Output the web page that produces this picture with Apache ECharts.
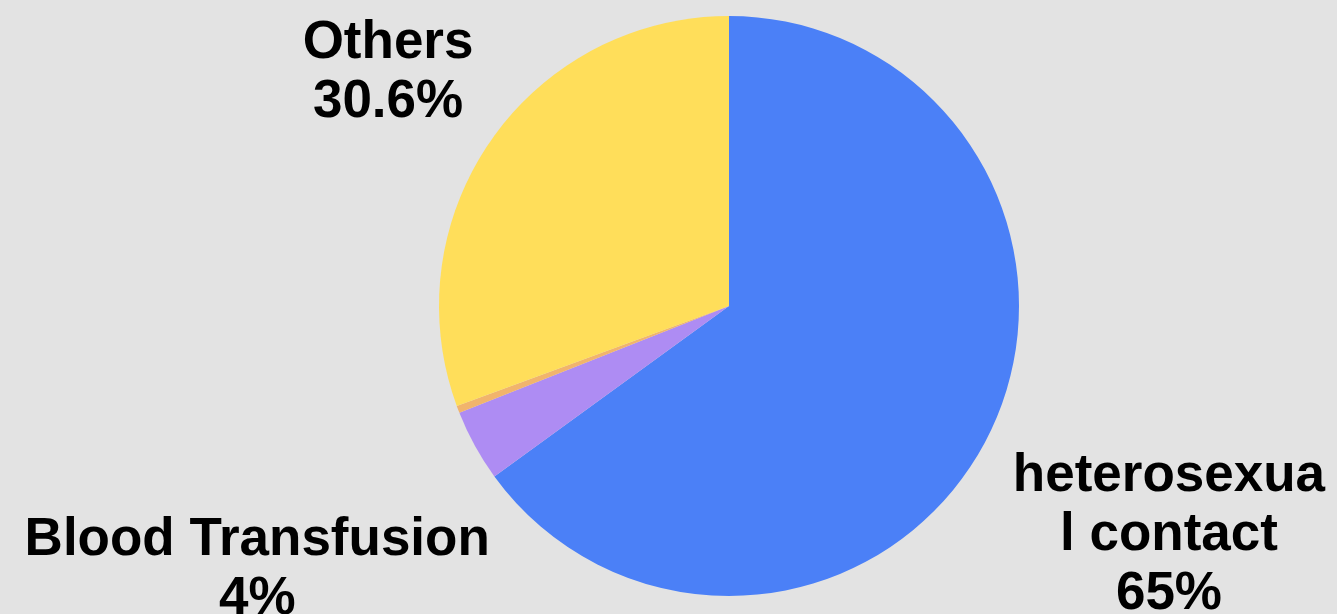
<!DOCTYPE html>
<html>
<head>
<meta charset="utf-8">
<script src="https://cdn.jsdelivr.net/npm/echarts@6/dist/echarts.min.js"></script>
<style>
  html, body { margin: 0; padding: 0; background: #e3e3e3; }
  #chart { width: 1337px; height: 614px; }
</style>
</head>
<body>
<div id="chart"></div>
<script>
// Transmission routes and their shares (percent)
const categories = ['heterosexual contact', 'Blood Transfusion', 'Injecting drug use', 'Others'];
const shares = [65, 4, 0.4, 30.6];
const colors = ['#4b80f7', '#ae8cf3', '#f1b46c', '#ffde5a'];
const unlabelled = ['Injecting drug use'];

// Pie geometry (pixels)
const CX = 729, CY = 306, R = 290, GAP = 22, TEXT_DROP = 5;

// Mid angle of every slice, clockwise from 12 o'clock
const total = shares.reduce((a, b) => a + b, 0);
const midAngles = [];
let acc = 0;
shares.forEach(v => { midAngles.push((acc + v / 2) / total * 2 * Math.PI); acc += v; });

// Push each centred label out along its slice's bisector until the
// label box's nearest corner sits just beyond the rim.
function placeLabel(params) {
  const a = midAngles[params.dataIndex];
  const ux = Math.sin(a), uy = -Math.cos(a);
  const w = params.labelRect.width, h = params.labelRect.height;
  const cx = Math.sign(ux) * w / 2, cy = Math.sign(uy) * h / 2;
  const uc = ux * cx + uy * cy;
  const rr = R + GAP;
  const d = uc + Math.sqrt(uc * uc - (cx * cx + cy * cy) + rr * rr);
  return { x: CX + ux * d, y: CY + uy * d + TEXT_DROP, align: 'center', verticalAlign: 'middle' };
}

const data = categories.map((name, i) => {
  const item = { name: name, value: shares[i], itemStyle: { color: colors[i] } };
  if (unlabelled.includes(name)) item.label = { show: false };
  if (i === 0) item.label = { width: 318, overflow: 'break' };
  return item;
});

const chart = echarts.init(document.getElementById('chart'), null, { renderer: 'canvas' });
chart.setOption({
  backgroundColor: '#e3e3e3',
  animation: false,
  series: [{
    type: 'pie',
    center: [CX, CY],
    radius: [0, R],
    startAngle: 90,
    clockwise: true,
    avoidLabelOverlap: false,
    itemStyle: { borderWidth: 0 },
    label: {
      show: true,
      position: 'outside',
      formatter: '{b}\n{d}%',
      color: '#000',
      fontFamily: 'Liberation Sans, Arial, sans-serif',
      fontWeight: 'bold',
      fontSize: 53,
      lineHeight: 59,
      align: 'center'
    },
    labelLine: { show: false },
    labelLayout: placeLabel,
    data: data
  }]
});
</script>
</body>
</html>
